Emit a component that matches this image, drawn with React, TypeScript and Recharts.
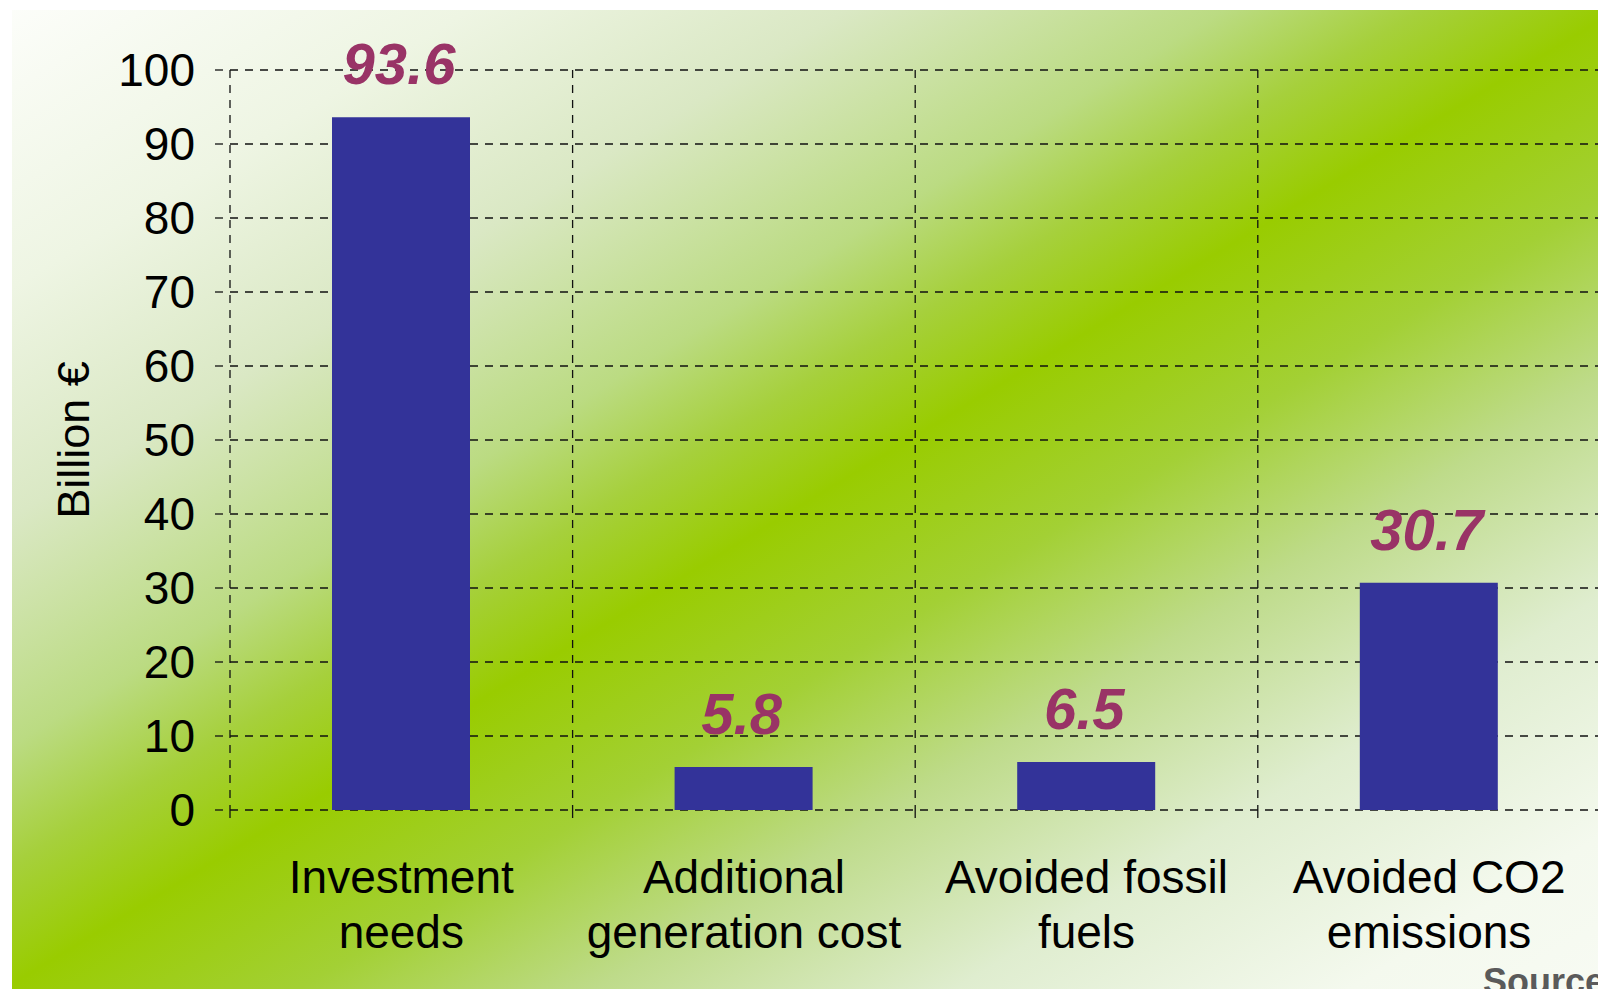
import React from 'react';
import { BarChart, Bar, XAxis, YAxis, CartesianGrid, LabelList, Label } from 'recharts';

// Cost / benefit figures, billion euro
const categories = [
  'Investment\nneeds',
  'Additional\ngeneration cost',
  'Avoided fossil\nfuels',
  'Avoided CO2\nemissions',
];
const values = [93.6, 5.8, 6.5, 30.7];
const yTicks = [0, 10, 20, 30, 40, 50, 60, 70, 80, 90, 100];

const data = categories.map((name, i) => ({ name, value: values[i] }));

const FONT = '"Liberation Sans", Arial, Helvetica, sans-serif';
const BAR_COLOR = '#333399';
const LABEL_COLOR = '#993366';
const DASH = '8 7';
const GRID_COLOR = '#111';

const W = 1598;
const H = 989;
const CHART_W = 1620;

function CategoryTick(props: any) {
  const { x, y, payload, width } = props;
  const band = width / categories.length;
  const lines = String(payload.value).split('\n');
  return (
    <g>
      <line
        x1={x - band / 2}
        x2={x - band / 2}
        y1={y - 15}
        y2={y}
        stroke={GRID_COLOR}
        strokeWidth={1.3}
        strokeDasharray={DASH}
      />
      <text
        x={x}
        y={y}
        textAnchor="middle"
        fontFamily={FONT}
        fontSize={46}
        fill="#000"
      >
        {lines.map((ln, i) => (
          <tspan key={i} x={x} dy={i === 0 ? 68 : 55}>
            {ln}
          </tspan>
        ))}
      </text>
    </g>
  );
}

function ValueLabel(props: any) {
  const { x, y, width, value } = props;
  return (
    <text
      x={x + width / 2 - 2}
      y={y - 33}
      textAnchor="middle"
      fontFamily={FONT}
      fontSize={58}
      fontWeight="bold"
      fontStyle="italic"
      fill={LABEL_COLOR}
    >
      {Number(value).toFixed(1)}
    </text>
  );
}

function AxisTitle(props: any) {
  const { viewBox } = props;
  const cx = viewBox.x + 73;
  const cy = viewBox.y + viewBox.height / 2;
  return (
    <text
      x={cx}
      y={cy}
      transform={`rotate(-90, ${cx}, ${cy})`}
      textAnchor="middle"
      dominantBaseline="central"
      fontFamily={FONT}
      fontSize={45}
      fill="#000"
    >
      Billion €
    </text>
  );
}

function Backdrop() {
  return (
    <svg width={W} height={H} style={{ position: 'absolute', left: 0, top: 0 }}>
      <defs>
        <linearGradient id="bgGrad" gradientUnits="userSpaceOnUse" x1={359} y1={-221} x2={1241} y2={1233}>
          <stop offset="0" stopColor="#fdfefb" />
          <stop offset="0.15" stopColor="#eef5e3" />
          <stop offset="0.265" stopColor="#dae8c4" />
          <stop offset="0.38" stopColor="#bbdb82" />
          <stop offset="0.44" stopColor="#a6d03c" />
          <stop offset="0.5" stopColor="#99cc00" />
          <stop offset="0.59" stopColor="#a3d035" />
          <stop offset="0.68" stopColor="#bedb8a" />
          <stop offset="0.79" stopColor="#dfedcf" />
          <stop offset="0.91" stopColor="#f4f9ee" />
          <stop offset="1" stopColor="#f8fbf4" />
        </linearGradient>
      </defs>
      <rect x={0} y={0} width={W} height={H} fill="#ffffff" />
      <rect x={12} y={10} width={W - 12} height={H - 10} fill="url(#bgGrad)" />
      <text x={1483} y={994} fontFamily={FONT} fontSize={36} fontWeight="bold" fill="#5a5a5a">
        Source:
      </text>
    </svg>
  );
}

export default function App() {
  return (
    <div
      style={{
        position: 'fixed',
        left: 0,
        top: 0,
        width: W,
        height: H,
        overflow: 'hidden',
        background: '#fff',
      }}
    >
      <Backdrop />
      <div style={{ position: 'absolute', left: 0, top: 0 }}>
        <BarChart
          width={CHART_W}
          height={H}
          data={data}
          margin={{ top: 70, right: 19.6, bottom: 79, left: 0 }}
        >
          <CartesianGrid
            stroke={GRID_COLOR}
            strokeWidth={1.3}
            strokeDasharray={DASH}
            verticalCoordinatesGenerator={({ offset }: any) =>
              categories.map((_, i) => offset.left + (i * offset.width) / categories.length)
            }
          />
          <XAxis
            dataKey="name"
            height={100}
            axisLine={false}
            tickLine={false}
            tickSize={15}
            tickMargin={0}
            interval={0}
            tick={(p: any) => <CategoryTick {...p} />}
          />
          <YAxis
            width={230}
            domain={[0, 100]}
            ticks={yTicks}
            interval={0}
            axisLine={false}
            tickSize={15}
            tickMargin={20}
            tickLine={{ stroke: GRID_COLOR, strokeWidth: 1.3, strokeDasharray: DASH }}
            tick={{ fontSize: 46, fill: '#000', fontFamily: FONT }}
          >
            <Label content={(p: any) => <AxisTitle {...p} />} />
          </YAxis>
          <Bar dataKey="value" fill={BAR_COLOR} barSize={138} isAnimationActive={false}>
            <LabelList dataKey="value" content={(p: any) => <ValueLabel {...p} />} />
          </Bar>
        </BarChart>
      </div>
    </div>
  );
}
